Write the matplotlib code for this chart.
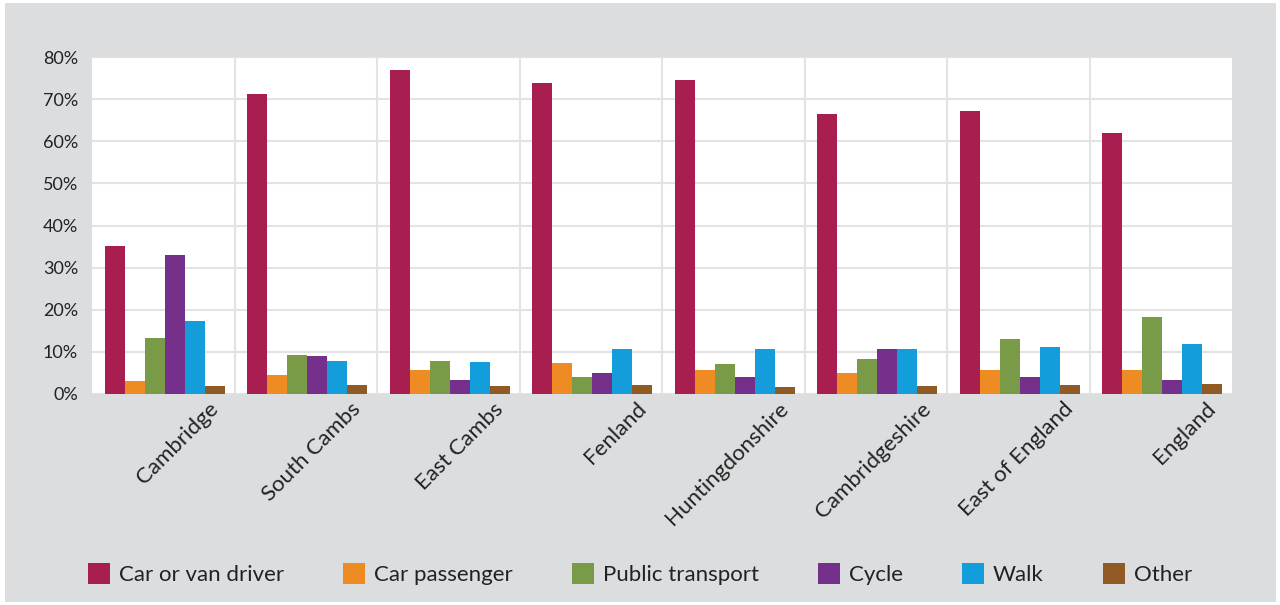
import matplotlib
matplotlib.use("Agg")
import matplotlib.pyplot as plt
import numpy as np
from matplotlib.patches import Rectangle
from matplotlib.transforms import ScaledTranslation

plt.rcParams['font.family'] = ['Lato', 'DejaVu Sans']

areas = ["Cambridge", "South Cambs", "East Cambs", "Fenland", "Huntingdonshire",
         "Cambridgeshire", "East of England", "England"]
modes = ["Car or van driver", "Car passenger", "Public transport", "Cycle", "Walk", "Other"]

car_driver = [35.1, 71.2, 77.0, 73.9, 74.6, 66.5, 67.2, 62.0]
car_passenger = [3.1, 4.5, 5.7, 7.4, 5.7, 5.0, 5.7, 5.7]
public_transport = [13.3, 9.2, 7.8, 4.1, 7.1, 8.3, 13.1, 18.3]
cycle = [33.0, 9.0, 3.3, 5.0, 4.1, 10.7, 4.1, 3.3]
walk = [17.3, 7.8, 7.6, 10.7, 10.7, 10.7, 11.2, 11.9]
other = [1.9, 2.1, 1.9, 2.1, 1.7, 1.9, 2.1, 2.4]
yticks = [0, 10, 20, 30, 40, 50, 60, 70, 80]

series = [car_driver, car_passenger, public_transport, cycle, walk, other]
colors = ["#a91e50", "#ef8b23", "#799b48", "#75308c", "#139dda", "#8f5a23"]

W, H = 1280, 605
fig = plt.figure(figsize=(W / 100, H / 100), dpi=100, facecolor="white")
fig.patches.append(Rectangle((5 / W, 3 / H), 1 - 9 / W, 1 - 6 / H,
                             transform=fig.transFigure, facecolor="#dcdddf",
                             edgecolor="none", zorder=-10))

ax = fig.add_axes([92 / W, 1 - 394 / H, (1232 - 92) / W, (394 - 57) / H])
ax.set_facecolor("white")

x = np.arange(len(areas))
bw = 0.14
for k, (vals, col, name) in enumerate(zip(series, colors, modes)):
    ax.bar(x + (k - 2.5) * bw + 0.01, vals, width=bw, color=col, label=name, zorder=3)

ax.set_xlim(-0.5, len(areas) - 0.5)
ax.set_ylim(0, 80)
ax.set_yticks(yticks)
ax.set_yticklabels([f"{v}%" for v in yticks])
ax.set_xticks(x)
ax.set_xticklabels(areas, rotation=45, ha="right", va="top", rotation_mode="anchor")
ax.set_xticks(np.arange(0.5, len(areas) - 0.5, 1), minor=True)
ax.tick_params(axis="both", which="both", length=0)
ax.tick_params(axis="y", labelsize=13, labelcolor="#222222", pad=10)
ax.tick_params(axis="x", labelsize=16, labelcolor="#222222", pad=2)
for lab in ax.get_xticklabels():
    lab.set_transform(lab.get_transform() + ScaledTranslation(0.45, -0.02, fig.dpi_scale_trans))

ax.grid(axis="y", which="major", color="#e3e3e3", linewidth=1.5, zorder=0)
ax.grid(axis="x", which="minor", color="#e3e3e3", linewidth=1.5, zorder=0)
ax.grid(axis="x", which="major", visible=False)
for s in ax.spines.values():
    s.set_visible(False)

fig.legend(loc="center", bbox_to_anchor=(0.5, 1 - 574 / H), ncol=6, frameon=False,
           prop={"size": 16}, handlelength=1.0, handleheight=1.05,
           handletextpad=0.4, columnspacing=2.65, labelcolor="#222222")

fig.savefig("out.png", dpi=100, facecolor="white")
